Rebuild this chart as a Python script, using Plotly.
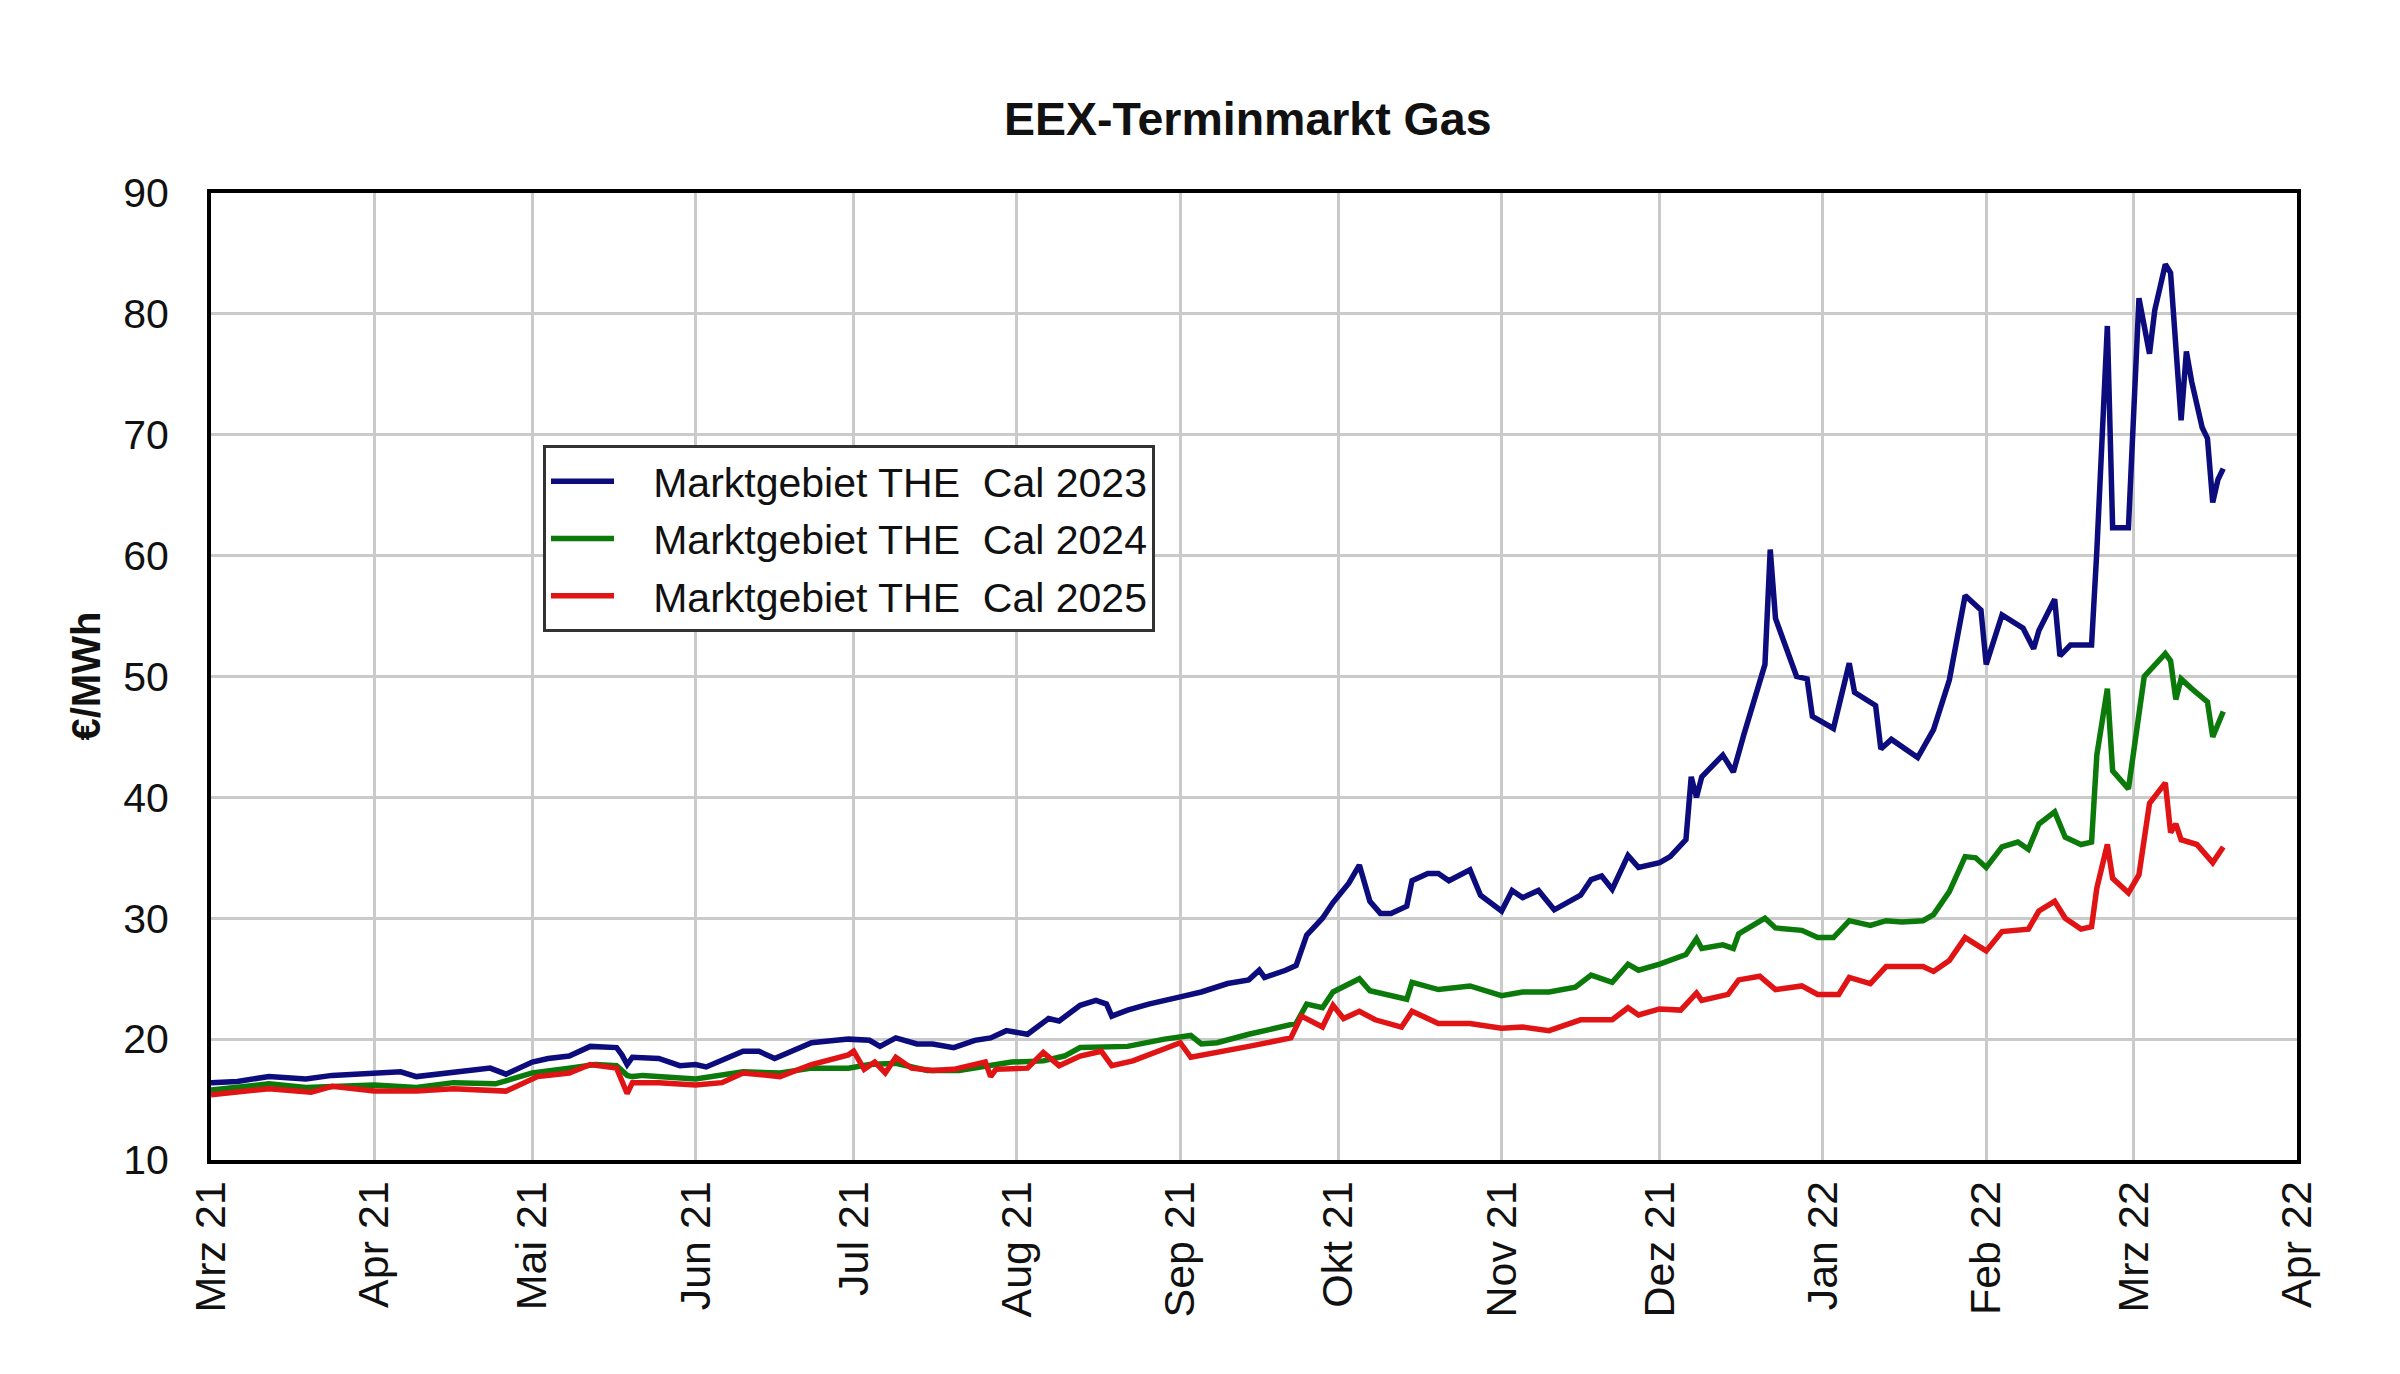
import pandas as pd
import plotly.graph_objects as go

# Marktgebiet THE Cal 2023 (EUR/MWh)
dates_2023 = [
    "2021-03-01", "2021-03-06", "2021-03-12", "2021-03-19", "2021-03-24", "2021-04-01",
    "2021-04-06", "2021-04-09", "2021-04-16", "2021-04-23", "2021-04-26", "2021-05-01",
    "2021-05-04", "2021-05-08", "2021-05-12", "2021-05-17", "2021-05-18", "2021-05-19",
    "2021-05-20", "2021-05-25", "2021-05-29", "2021-06-01", "2021-06-03", "2021-06-10",
    "2021-06-13", "2021-06-16", "2021-06-23", "2021-06-30", "2021-07-04", "2021-07-06",
    "2021-07-09", "2021-07-13", "2021-07-16", "2021-07-20", "2021-07-24", "2021-07-27",
    "2021-07-30", "2021-08-03", "2021-08-07", "2021-08-09", "2021-08-13", "2021-08-16",
    "2021-08-18", "2021-08-19", "2021-08-22", "2021-08-26", "2021-09-01", "2021-09-05",
    "2021-09-10", "2021-09-14", "2021-09-16", "2021-09-17", "2021-09-21", "2021-09-23",
    "2021-09-25", "2021-09-28", "2021-09-30", "2021-10-03", "2021-10-05", "2021-10-07",
    "2021-10-09", "2021-10-11", "2021-10-14", "2021-10-15", "2021-10-18", "2021-10-20",
    "2021-10-22", "2021-10-26", "2021-10-28", "2021-11-01", "2021-11-03", "2021-11-05",
    "2021-11-08", "2021-11-11", "2021-11-16", "2021-11-18", "2021-11-20", "2021-11-22",
    "2021-11-25", "2021-11-27", "2021-12-01", "2021-12-03", "2021-12-06", "2021-12-07",
    "2021-12-08", "2021-12-09", "2021-12-13", "2021-12-15", "2021-12-17", "2021-12-20",
    "2021-12-21", "2021-12-22", "2021-12-23", "2021-12-27", "2021-12-29", "2021-12-30",
    "2022-01-03", "2022-01-06", "2022-01-07", "2022-01-11", "2022-01-12", "2022-01-14",
    "2022-01-19", "2022-01-22", "2022-01-25", "2022-01-28", "2022-01-31", "2022-02-01",
    "2022-02-04", "2022-02-08", "2022-02-10", "2022-02-11", "2022-02-14", "2022-02-15",
    "2022-02-17", "2022-02-21", "2022-02-22", "2022-02-24", "2022-02-25", "2022-02-28",
    "2022-03-02", "2022-03-04", "2022-03-05", "2022-03-07", "2022-03-08", "2022-03-10",
    "2022-03-11", "2022-03-12", "2022-03-14", "2022-03-15", "2022-03-16", "2022-03-17",
    "2022-03-18",
]
values_2023 = [
    16.4, 16.5, 16.9, 16.7, 17.0, 17.2,
    17.3, 16.9, 17.3, 17.6, 17.1, 18.1,
    18.4, 18.6, 19.4, 19.3, 18.7, 17.9,
    18.5, 18.4, 17.8, 17.9, 17.7, 19.0,
    19.0, 18.4, 19.7, 20.0, 19.9, 19.4,
    20.1, 19.6, 19.6, 19.3, 19.9, 20.1,
    20.7, 20.4, 21.7, 21.5, 22.8, 23.2,
    22.9, 21.9, 22.4, 22.9, 23.5, 23.9,
    24.6, 24.9, 25.7, 25.1, 25.7, 26.1,
    28.6, 30.0, 31.3, 32.9, 34.4, 31.4,
    30.4, 30.4, 31.0, 33.1, 33.7, 33.7,
    33.1, 34.0, 31.9, 30.6, 32.3, 31.7,
    32.3, 30.7, 31.9, 33.2, 33.5, 32.4,
    35.2, 34.2, 34.6, 35.1, 36.5, 41.7,
    40.0, 41.7, 43.5, 42.1, 45.2, 49.7,
    51.0, 60.5, 54.8, 50.0, 49.8, 46.7,
    45.7, 51.1, 48.7, 47.6, 44.0, 44.8,
    43.3, 45.6, 49.7, 56.7, 55.5, 51.0,
    55.1, 54.0, 52.3, 53.8, 56.4, 51.7,
    52.6, 52.6, 60.4, 79.0, 62.3, 62.3,
    81.3, 76.7, 80.3, 84.1, 83.4, 71.2,
    76.9, 74.4, 70.6, 69.7, 64.4, 66.3,
    67.2,
]

# Marktgebiet THE Cal 2024
dates_2024 = [
    "2021-03-01", "2021-03-12", "2021-03-19", "2021-04-01", "2021-04-09", "2021-04-16",
    "2021-04-24", "2021-05-01", "2021-05-08", "2021-05-13", "2021-05-17", "2021-05-19",
    "2021-05-20", "2021-05-22", "2021-06-01", "2021-06-10", "2021-06-17", "2021-06-23",
    "2021-06-30", "2021-07-04", "2021-07-09", "2021-07-15", "2021-07-21", "2021-07-27",
    "2021-07-31", "2021-08-06", "2021-08-10", "2021-08-13", "2021-08-18", "2021-08-22",
    "2021-08-29", "2021-09-03", "2021-09-05", "2021-09-08", "2021-09-14", "2021-09-22",
    "2021-09-23", "2021-09-25", "2021-09-28", "2021-09-30", "2021-10-05", "2021-10-07",
    "2021-10-11", "2021-10-14", "2021-10-15", "2021-10-20", "2021-10-26", "2021-11-01",
    "2021-11-05", "2021-11-10", "2021-11-15", "2021-11-18", "2021-11-22", "2021-11-25",
    "2021-11-27", "2021-12-01", "2021-12-06", "2021-12-08", "2021-12-09", "2021-12-13",
    "2021-12-15", "2021-12-16", "2021-12-21", "2021-12-23", "2021-12-28", "2021-12-31",
    "2022-01-03", "2022-01-06", "2022-01-10", "2022-01-13", "2022-01-16", "2022-01-20",
    "2022-01-22", "2022-01-25", "2022-01-28", "2022-01-30", "2022-02-01", "2022-02-04",
    "2022-02-07", "2022-02-09", "2022-02-11", "2022-02-14", "2022-02-16", "2022-02-19",
    "2022-02-21", "2022-02-22", "2022-02-24", "2022-02-25", "2022-02-28", "2022-03-02",
    "2022-03-03", "2022-03-07", "2022-03-08", "2022-03-09", "2022-03-10", "2022-03-12",
    "2022-03-15", "2022-03-16", "2022-03-17", "2022-03-18",
]
values_2024 = [
    15.8, 16.3, 16.0, 16.2, 16.0, 16.4,
    16.3, 17.2, 17.6, 17.9, 17.8, 17.0,
    16.9, 17.0, 16.7, 17.3, 17.2, 17.6,
    17.6, 17.9, 18.0, 17.4, 17.4, 17.8,
    18.1, 18.2, 18.6, 19.3, 19.4, 19.4,
    20.0, 20.3, 19.6, 19.7, 20.4, 21.1,
    21.3, 22.9, 22.6, 23.9, 25.0, 24.0,
    23.6, 23.3, 24.7, 24.1, 24.4, 23.6,
    23.9, 23.9, 24.3, 25.3, 24.7, 26.2,
    25.7, 26.2, 27.0, 28.3, 27.5, 27.8,
    27.5, 28.7, 30.0, 29.2, 29.0, 28.4,
    28.4, 29.8, 29.4, 29.8, 29.7, 29.8,
    30.3, 32.2, 35.1, 35.0, 34.2, 35.9,
    36.3, 35.7, 37.8, 38.8, 36.7, 36.1,
    36.3, 43.5, 49.0, 42.2, 40.7, 46.4,
    50.0, 51.9, 51.3, 48.1, 49.8, 49.0,
    47.9, 45.0, 46.0, 47.1,
]

# Marktgebiet THE Cal 2025
dates_2025 = [
    "2021-03-01", "2021-03-12", "2021-03-20", "2021-03-24", "2021-04-01", "2021-04-09",
    "2021-04-16", "2021-04-26", "2021-05-02", "2021-05-08", "2021-05-12", "2021-05-17",
    "2021-05-19", "2021-05-20", "2021-05-25", "2021-06-01", "2021-06-06", "2021-06-10",
    "2021-06-17", "2021-06-23", "2021-06-30", "2021-07-01", "2021-07-03", "2021-07-05",
    "2021-07-07", "2021-07-09", "2021-07-12", "2021-07-16", "2021-07-20", "2021-07-26",
    "2021-07-27", "2021-07-28", "2021-08-03", "2021-08-06", "2021-08-09", "2021-08-13",
    "2021-08-17", "2021-08-19", "2021-08-23", "2021-08-29", "2021-09-01", "2021-09-03",
    "2021-09-07", "2021-09-14", "2021-09-22", "2021-09-24", "2021-09-28", "2021-09-30",
    "2021-10-02", "2021-10-05", "2021-10-08", "2021-10-13", "2021-10-15", "2021-10-20",
    "2021-10-26", "2021-11-01", "2021-11-05", "2021-11-10", "2021-11-16", "2021-11-22",
    "2021-11-25", "2021-11-27", "2021-12-01", "2021-12-05", "2021-12-08", "2021-12-09",
    "2021-12-14", "2021-12-16", "2021-12-20", "2021-12-23", "2021-12-28", "2021-12-31",
    "2022-01-04", "2022-01-06", "2022-01-10", "2022-01-13", "2022-01-20", "2022-01-22",
    "2022-01-25", "2022-01-28", "2022-02-01", "2022-02-04", "2022-02-09", "2022-02-11",
    "2022-02-14", "2022-02-16", "2022-02-19", "2022-02-21", "2022-02-22", "2022-02-24",
    "2022-02-25", "2022-02-28", "2022-03-02", "2022-03-04", "2022-03-07", "2022-03-08",
    "2022-03-09", "2022-03-10", "2022-03-13", "2022-03-16", "2022-03-18",
]
values_2025 = [
    15.4, 15.9, 15.6, 16.1, 15.7, 15.7,
    15.9, 15.7, 16.9, 17.2, 17.9, 17.6,
    15.5, 16.4, 16.4, 16.2, 16.4, 17.2,
    16.9, 17.9, 18.7, 19.0, 17.5, 18.1,
    17.2, 18.5, 17.6, 17.4, 17.5, 18.1,
    16.9, 17.5, 17.6, 18.9, 17.8, 18.6,
    19.0, 17.8, 18.2, 19.2, 19.7, 18.5,
    18.8, 19.4, 20.1, 21.9, 21.0, 22.8,
    21.7, 22.3, 21.6, 21.0, 22.3, 21.3,
    21.3, 20.9, 21.0, 20.7, 21.6, 21.6,
    22.6, 22.0, 22.5, 22.4, 23.8, 23.2,
    23.7, 24.9, 25.2, 24.1, 24.4, 23.7,
    23.7, 25.1, 24.6, 26.0, 26.0, 25.6,
    26.5, 28.4, 27.3, 28.9, 29.1, 30.6,
    31.4, 30.0, 29.1, 29.3, 32.5, 36.1,
    33.3, 32.1, 33.6, 39.5, 41.2, 37.1,
    37.8, 36.5, 36.1, 34.6, 35.9,
]

series_names = [
    "Marktgebiet THE  Cal 2023",
    "Marktgebiet THE  Cal 2024",
    "Marktgebiet THE  Cal 2025",
]
series_colors = ["#0c0c7c", "#0b7a0b", "#e01414"]

month_labels = [
    "Mrz 21", "Apr 21", "Mai 21", "Jun 21", "Jul 21", "Aug 21", "Sep 21",
    "Okt 21", "Nov 21", "Dez 21", "Jan 22", "Feb 22", "Mrz 22", "Apr 22",
]
month_ticks = pd.date_range("2021-03-01", "2022-04-01", freq="MS")

FONT = "Liberation Sans, Arial, sans-serif"
W, H = 2400, 1374
L, R, T, B = 203, 111, 185, 222

fig = go.Figure()
all_dates = [dates_2023, dates_2024, dates_2025]
all_values = [values_2023, values_2024, values_2025]
for i in range(3):
    fig.add_trace(go.Scatter(
        x=pd.to_datetime(all_dates[i]),
        y=all_values[i],
        mode="lines",
        # leading spaces leave a gap between swatch and text, as in the original
        name="   " + series_names[i],
        legendgroup=str(i),
        line=dict(color=series_colors[i], width=5.5),
    ))

fig.update_layout(
    width=W,
    height=H,
    margin=dict(l=L, r=R, t=T, b=B),
    paper_bgcolor="white",
    plot_bgcolor="white",
    font=dict(family=FONT, size=40, color="#111111"),
    title=dict(
        text="<b>EEX-Terminmarkt Gas</b>",
        x=0.497, xref="paper", xanchor="center",
        y=1 - 111 / H, yref="container", yanchor="middle",
        font=dict(family=FONT, size=46.5, color="#111111"),
    ),
    showlegend=True,
    legend=dict(
        x=(535 - L) / (W - L - R), y=(H - B - 437) / (H - B - T),
        xanchor="left", yanchor="top",
        bgcolor="white",
        bordercolor="#333333",
        borderwidth=3,
        traceorder="grouped",
        tracegroupgap=1,
        font=dict(family=FONT, size=41, color="#111111"),
        itemwidth=63,
    ),
)

fig.update_xaxes(
    type="date",
    range=[month_ticks[0], month_ticks[-1]],
    tickmode="array",
    tickvals=month_ticks,
    ticktext=month_labels,
    tickangle=-90,
    ticks="",
    ticklabelstandoff=0,
    tickfont=dict(family=FONT, size=43, color="#111111"),
    showgrid=True,
    gridcolor="#cacaca",
    gridwidth=3,
    showline=True,
    linecolor="black",
    linewidth=4,
    mirror=True,
    zeroline=False,
)

fig.update_yaxes(
    range=[10, 90],
    tickmode="linear",
    tick0=10,
    dtick=10,
    ticks="",
    ticklabelstandoff=30,
    tickfont=dict(family=FONT, size=41, color="#111111"),
    showgrid=True,
    gridcolor="#cacaca",
    gridwidth=3,
    showline=True,
    linecolor="black",
    linewidth=4,
    mirror=True,
    zeroline=False,
)

fig.add_annotation(
    text="<b>€/MWh</b>",
    xref="paper", yref="paper",
    x=(77 - L) / (W - L - R), y=0.5,
    xanchor="center", yanchor="middle",
    textangle=-90,
    showarrow=False,
    font=dict(family=FONT, size=40, color="#111111"),
)

fig.write_html("out.html")
